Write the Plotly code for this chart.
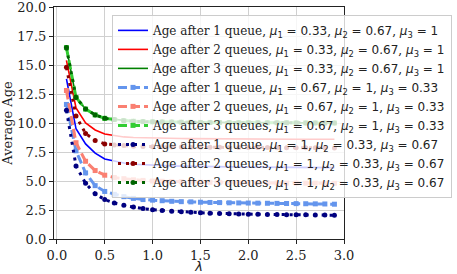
import plotly.graph_objects as go

lam = [0.1, 0.2, 0.3, 0.4, 0.5, 0.6, 0.7, 0.8, 0.9, 1.0,
       1.1, 1.2, 1.3, 1.4, 1.5, 1.6, 1.7, 1.8, 1.9, 2.0,
       2.1, 2.2, 2.3, 2.4, 2.5, 2.6, 2.7, 2.8, 2.9]

# mu = (0.33, 0.67, 1)
age1_a = [13.8, 9.5, 8.2, 7.4, 6.9, 6.7, 6.55, 6.45, 6.4, 6.35,
          6.32, 6.3, 6.28, 6.26, 6.25, 6.24, 6.23, 6.22, 6.21, 6.2,
          6.2, 6.19, 6.18, 6.18, 6.17, 6.17, 6.16, 6.16, 6.15]
age2_a = [15.4, 11.3, 10.0, 9.4, 9.05, 8.9, 8.8, 8.75, 8.72, 8.7,
          8.68, 8.67, 8.66, 8.65, 8.64, 8.64, 8.63, 8.63, 8.62, 8.62,
          8.62, 8.61, 8.61, 8.61, 8.6, 8.6, 8.6, 8.6, 8.6]
age3 = [16.5, 12.2, 11.2, 10.7, 10.4, 10.3, 10.2, 10.15, 10.12, 10.1,
        10.09, 10.08, 10.07, 10.06, 10.05, 10.05, 10.04, 10.04, 10.03, 10.03,
        10.03, 10.02, 10.02, 10.02, 10.01, 10.01, 10.01, 10.0, 10.0]
# mu = (0.67, 1, 0.33)
age1_b = [11.6, 7.6, 5.7, 4.6, 4.1, 3.85, 3.65, 3.5, 3.4, 3.35,
          3.3, 3.25, 3.22, 3.2, 3.17, 3.15, 3.14, 3.12, 3.11, 3.1,
          3.09, 3.08, 3.07, 3.06, 3.05, 3.04, 3.03, 3.02, 3.0]
age2_b = [12.8, 8.3, 6.7, 5.9, 5.5, 5.3, 5.2, 5.1, 5.05, 5.0,
          4.98, 4.96, 4.94, 4.92, 4.9, 4.89, 4.88, 4.87, 4.86, 4.85,
          4.84, 4.83, 4.83, 4.82, 4.82, 4.81, 4.81, 4.8, 4.8]
# mu = (1, 0.33, 0.67)
age1_c = [11.1, 6.3, 4.8, 3.9, 3.4, 3.1, 2.9, 2.75, 2.62, 2.52,
          2.46, 2.4, 2.35, 2.3, 2.26, 2.23, 2.2, 2.18, 2.16, 2.14,
          2.13, 2.12, 2.11, 2.1, 2.09, 2.08, 2.07, 2.06, 2.05]
age2_c = [14.8, 10.6, 9.1, 8.5, 8.2, 8.1, 8.05, 8.0, 7.98, 7.96,
          7.95, 7.94, 7.93, 7.92, 7.91, 7.9, 7.9, 7.89, 7.89, 7.88,
          7.88, 7.88, 7.87, 7.87, 7.87, 7.86, 7.86, 7.86, 7.85]

names_q = ["Age after 1 queue", "Age after 2 queues", "Age after 3 queues"]
mu_sets = [("0.33", "0.67", "1"), ("0.67", "1", "0.33"), ("1", "0.33", "0.67")]

SERIF = "DejaVu Serif"
SANS = "DejaVu Sans"


def label(q, mus):
    m = '<span style="font-family:DejaVu Sans"><i>μ</i><sub>%d</sub> = %s</span>'
    return (names_q[q] + ", " + m % (1, mus[0]) + ", " + m % (2, mus[1])
            + ", " + m % (3, mus[2]))


fig = go.Figure()

# set A: solid lines
for q, (ys, col) in enumerate([(age1_a, "#0000ff"), (age2_a, "#ff0000"), (age3, "#008000")]):
    fig.add_trace(go.Scatter(x=lam, y=ys, mode="lines", name=label(q, mu_sets[0]),
                             line=dict(color=col, width=1.6)))
# set B: dashed with squares
for q, (ys, col) in enumerate([(age1_b, "#6495ed"), (age2_b, "#fa8072"), (age3, "#32cd32")]):
    fig.add_trace(go.Scatter(x=lam, y=ys, mode="lines+markers", name=label(q, mu_sets[1]),
                             line=dict(color=col, width=3, dash="9px,4px"),
                             marker=dict(symbol="square", size=5, color=col)))
# set C: dotted with dots
for q, (ys, col) in enumerate([(age1_c, "#000080"), (age2_c, "#8b0000"), (age3, "#006400")]):
    fig.add_trace(go.Scatter(x=lam, y=ys, mode="lines+markers", name=label(q, mu_sets[2]),
                             line=dict(color=col, width=3, dash="3px,5px"),
                             marker=dict(symbol="circle", size=5, color=col)))

axis_common = dict(showgrid=True, gridcolor="#d0d0d0", gridwidth=1,
                   showline=True, linecolor="#222", linewidth=1.2, mirror=True,
                   ticks="outside", ticklen=4, tickcolor="#222", zeroline=False,
                   ticklabeloverflow="allow",
                   tickfont=dict(family=SERIF, size=13, color="#222"))

fig.update_layout(
    width=457, height=274,
    margin=dict(l=54, r=113, t=7, b=35, autoexpand=False),
    plot_bgcolor="white", paper_bgcolor="white",
    font=dict(family=SERIF, size=13, color="#222"),
    xaxis=dict(range=[-0.03, 3.0], tickvals=[0, 0.5, 1, 1.5, 2, 2.5, 3],
               tickformat=".1f",
               title=dict(text="<i>λ</i>", standoff=9,
                          font=dict(family=SANS, size=13)),
               **axis_common),
    yaxis=dict(range=[0, 20], tickvals=[0, 2.5, 5, 7.5, 10, 12.5, 15, 17.5, 20],
               tickformat=".1f",
               title=dict(text="Average Age", standoff=4,
                          font=dict(family=SERIF, size=13)),
               **axis_common),
    legend=dict(x=0.2, y=0.966, xanchor="left", yanchor="top",
                bgcolor="rgba(255,255,255,0.8)", bordercolor="#cccccc", borderwidth=1,
                font=dict(family=SERIF, size=12, color="#222"),
                itemwidth=30, tracegroupgap=0),
    showlegend=True,
)

fig.write_html("out.html", config={"displayModeBar": False},
               post_script="document.body.style.margin='0';document.body.style.padding='0';")
